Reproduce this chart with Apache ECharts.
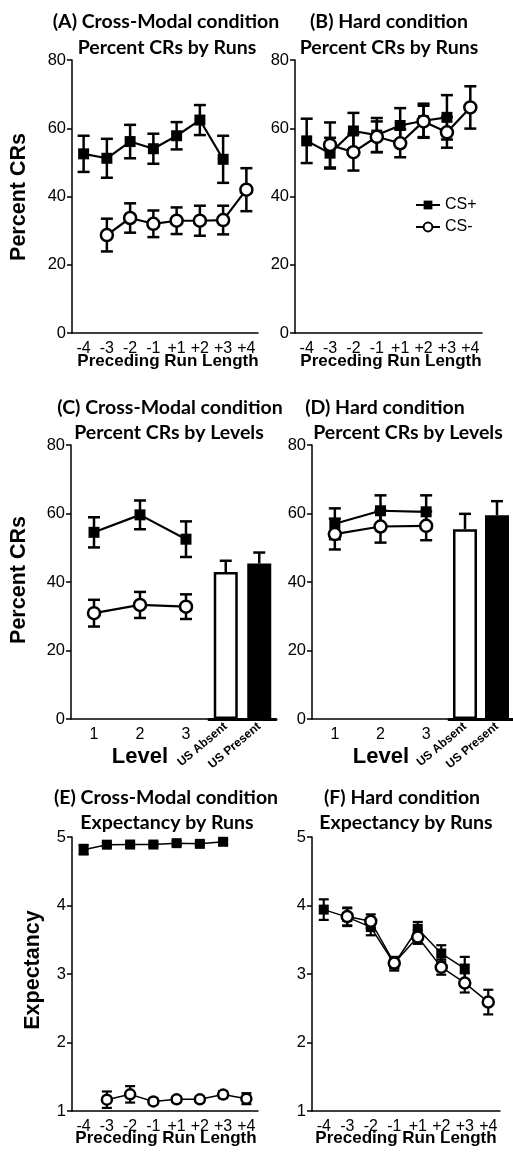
<!DOCTYPE html>
<html>
<head>
<meta charset="utf-8">
<script src="https://cdn.jsdelivr.net/npm/echarts@6/dist/echarts.min.js"></script>
<style>
html,body{margin:0;padding:0;background:#fff;}
#c{width:513px;height:1156px;}
</style>
</head>
<body>
<div id="c"></div>
<script>
// ---------- DATA ----------
const runLabels = ['-4','-3','-2','-1','+1','+2','+3','+4'];
const levelLabels = ['1','2','3'];
const barLabels = ['US Absent','US Present'];

// (A) Cross-Modal, Percent CRs by Runs
const aPlusMean  = [52.5, 51.2, 56.1, 54.0, 57.8, 62.4, 50.9, null];
const aPlusErr   = [5.3, 5.7, 4.9, 4.4, 4.0, 4.4, 6.9, null];
const aMinusMean = [null, 28.7, 33.7, 32.0, 32.9, 32.9, 33.1, 42.0];
const aMinusErr  = [null, 4.8, 4.3, 3.9, 3.9, 4.4, 4.2, 6.3];

// (B) Hard, Percent CRs by Runs
const bPlusMean  = [56.3, 52.7, 59.2, 58.0, 60.8, 62.2, 63.2, null];
const bPlusErr   = [6.5, 4.5, 5.3, 5.0, 5.1, 5.0, 6.5, null];
const bMinusMean = [null, 55.1, 53.0, 57.5, 55.6, 62.0, 58.8, 66.1];
const bMinusErr  = [null, 6.6, 5.4, 4.5, 4.1, 4.6, 4.5, 6.2];

// (C) Cross-Modal, Percent CRs by Levels
const cPlusMean  = [54.5, 59.6, 52.5];
const cPlusErr   = [4.4, 4.2, 5.2];
const cMinusMean = [30.9, 33.3, 32.8];
const cMinusErr  = [3.9, 3.8, 3.6];
const cBarMean   = [42.9, 45.4];
const cBarErr    = [3.3, 3.2];

// (D) Hard, Percent CRs by Levels
const dPlusMean  = [57.0, 60.8, 60.5];
const dPlusErr   = [4.5, 4.5, 4.8];
const dMinusMean = [54.0, 56.2, 56.4];
const dMinusErr  = [4.5, 4.7, 4.2];
const dBarMean   = [55.4, 59.5];
const dBarErr    = [4.5, 4.1];

// (E) Cross-Modal, Expectancy by Runs
const ePlusMean  = [4.815, 4.888, 4.89, 4.89, 4.91, 4.90, 4.93, null];
const ePlusErr   = [0.07, 0.03, 0.03, 0.03, 0.03, 0.03, 0.03, null];
const eMinusMean = [null, 1.165, 1.243, 1.14, 1.17, 1.17, 1.24, 1.18];
const eMinusErr  = [null, 0.12, 0.12, 0.04, 0.04, 0.04, 0.05, 0.08];

// (F) Hard, Expectancy by Runs
const fPlusMean  = [3.94, 3.83, 3.685, 3.15, 3.66, 3.30, 3.08, null];
const fPlusErr   = [0.15, 0.13, 0.12, 0.10, 0.10, 0.12, 0.17, null];
const fMinusMean = [null, 3.84, 3.77, 3.16, 3.54, 3.10, 2.87, 2.59];
const fMinusErr  = [null, 0.13, 0.10, 0.08, 0.10, 0.11, 0.14, 0.18];

const pctTicks = {min: 0, max: 80, interval: 20};
const expTicks = {min: 1, max: 5, interval: 1};

// ---------- LAYOUT ----------
const AX = 'Liberation Sans';
const TF = 'Lato';
const TS = 19.5;
const grids = [
  {left: 72,  top: 60,  width: 186, height: 273}, // 0 A
  {left: 295, top: 60,  width: 187, height: 273}, // 1 B
  {left: 71,  top: 445, width: 138, height: 274}, // 2 C lines
  {left: 209, top: 445, width: 67,  height: 274}, // 3 C bars
  {left: 312, top: 445, width: 137, height: 274}, // 4 D lines
  {left: 449, top: 445, width: 66,  height: 274}, // 5 D bars
  {left: 72,  top: 837, width: 186, height: 274}, // 6 E
  {left: 312, top: 837, width: 188, height: 274}  // 7 F
];

function xCat(gi, labels, bar) {
  return {
    type: 'category', gridIndex: gi, data: labels, boundaryGap: true,
    axisLine: {lineStyle: {color: '#000', width: bar ? 3 : 1.5}},
    axisTick: {alignWithLabel: true, length: bar ? 6 : 5, lineStyle: {color: '#000', width: bar ? 3 : 1.5}},
    axisLabel: bar ? {rotate: 40, interval: 0, color: '#000', fontFamily: AX, fontWeight: 'bold', fontSize: 12, margin: 6}
                   : {interval: 0, color: '#000', fontFamily: AX, fontSize: 16, margin: 8},
    splitLine: {show: false}
  };
}
function yVal(gi, t, show) {
  return {
    type: 'value', gridIndex: gi, min: t.min, max: t.max, interval: t.interval, show: show,
    axisLine: {show: true, lineStyle: {color: '#000', width: 1.5}},
    axisTick: {show: true, length: 5, lineStyle: {color: '#000', width: 1.5}},
    axisLabel: {color: '#000', fontFamily: AX, fontSize: 16.5, margin: 6},
    splitLine: {show: false}
  };
}

const xAxes = [
  xCat(0, runLabels), xCat(1, runLabels),
  xCat(2, levelLabels), xCat(3, barLabels, true),
  xCat(4, levelLabels), xCat(5, barLabels, true),
  xCat(6, runLabels), xCat(7, runLabels)
];
const yAxes = [
  yVal(0, pctTicks, true), yVal(1, pctTicks, true),
  yVal(2, pctTicks, true), yVal(3, pctTicks, false),
  yVal(4, pctTicks, true), yVal(5, pctTicks, false),
  yVal(6, expTicks, true), yVal(7, expTicks, true)
];

function errData(mean, err) {
  const out = [];
  mean.forEach((m, i) => { if (m !== null && err[i] !== null) out.push([i, m, err[i]]); });
  return out;
}
function errSeries(ai, mean, err, cap, lw, z, upOnly) {
  return {
    type: 'custom', xAxisIndex: ai, yAxisIndex: ai, z: z, silent: true,
    data: errData(mean, err),
    renderItem: function (params, api) {
      const x = api.value(0), m = api.value(1), e = api.value(2);
      const c = api.coord([x, m]);
      const t = api.coord([x, m + e]);
      const b = api.coord([x, upOnly ? m : m - e]);
      const st = {stroke: '#000', lineWidth: lw};
      const ch = [
        {type: 'line', shape: {x1: c[0], y1: t[1], x2: c[0], y2: b[1]}, style: st},
        {type: 'line', shape: {x1: c[0] - cap / 2, y1: t[1], x2: c[0] + cap / 2, y2: t[1]}, style: st}
      ];
      if (!upOnly) ch.push({type: 'line', shape: {x1: c[0] - cap / 2, y1: b[1], x2: c[0] + cap / 2, y2: b[1]}, style: st});
      return {type: 'group', children: ch};
    }
  };
}
function lineSeries(ai, name, mean, isPlus, lw, size, z) {
  return {
    type: 'line', name: name, xAxisIndex: ai, yAxisIndex: ai, z: z,
    data: mean, connectNulls: false,
    symbol: isPlus ? 'rect' : 'circle',
    symbolSize: size,
    showSymbol: true,
    lineStyle: {color: '#000', width: lw},
    itemStyle: isPlus ? {color: '#000', borderColor: '#000', borderWidth: 0}
                      : {color: '#fff', borderColor: '#000', borderWidth: 2.5},
    emphasis: {disabled: true},
    animation: false
  };
}
function pair(ai, pm, pe, mm, me, lw, sq, ci, cap, elw) {
  return [
    errSeries(ai, pm, pe, cap, elw, 2),
    lineSeries(ai, 'CS+', pm, true, lw, sq, 3),
    errSeries(ai, mm, me, cap, elw, 4),
    lineSeries(ai, 'CS-', mm, false, lw, ci, 5)
  ];
}
function barSeries(ai, mean, err) {
  return [
    {
      type: 'bar', xAxisIndex: ai, yAxisIndex: ai, barWidth: 24, z: 2,
      data: mean.map((v, i) => ({
        value: v,
        itemStyle: i === 0 ? {color: '#fff', borderColor: '#000', borderWidth: 2.5}
                           : {color: '#000', borderColor: '#000', borderWidth: 2.5}
      })),
      emphasis: {disabled: true}, animation: false
    },
    errSeries(ai, mean, err, 12, 2.5, 1, true)
  ];
}

const series = [].concat(
  pair(0, aPlusMean, aPlusErr, aMinusMean, aMinusErr, 2.2, 11, 12, 12, 2.5),
  pair(1, bPlusMean, bPlusErr, bMinusMean, bMinusErr, 2.2, 11, 12, 12, 2.5),
  pair(2, cPlusMean, cPlusErr, cMinusMean, cMinusErr, 2.2, 11, 12, 12, 2.5),
  barSeries(3, cBarMean, cBarErr),
  pair(4, dPlusMean, dPlusErr, dMinusMean, dMinusErr, 2.2, 11, 12, 12, 2.5),
  barSeries(5, dBarMean, dBarErr),
  pair(6, ePlusMean, ePlusErr, eMinusMean, eMinusErr, 1.5, 10, 10, 10, 2.2),
  pair(7, fPlusMean, fPlusErr, fMinusMean, fMinusErr, 1.5, 10, 11, 10, 2.2)
);

function txt(x, y, s, size, font, weight, rot) {
  return {
    type: 'text', x: x, y: y, rotation: rot || 0, silent: true,
    style: {text: s, fill: '#000', font: (weight || 'bold') + ' ' + size + 'px "' + font + '"', textAlign: 'center', textVerticalAlign: 'middle'}
  };
}
const graphics = [
  txt(166, 22, '(A) Cross-Modal condition', TS, TF),
  txt(167, 48, 'Percent CRs by Runs', TS, TF),
  txt(389, 22, '(B) Hard condition', TS, TF),
  txt(389, 48, 'Percent CRs by Runs', TS, TF),
  txt(170, 408, '(C) Cross-Modal condition', TS, TF),
  txt(169, 433, 'Percent CRs by Levels', TS, TF),
  txt(385, 408, '(D) Hard condition', TS, TF),
  txt(408, 433, 'Percent CRs by Levels', TS, TF),
  txt(166, 798, '(E) Cross-Modal condition', TS, TF),
  txt(167, 823, 'Expectancy by Runs', TS, TF),
  txt(402, 798, '(F) Hard condition', TS, TF),
  txt(406, 823, 'Expectancy by Runs', TS, TF),
  txt(19, 197, 'Percent CRs', 21.5, AX, 'bold', Math.PI / 2),
  txt(19, 580, 'Percent CRs', 21.5, AX, 'bold', Math.PI / 2),
  txt(33, 970, 'Expectancy', 21.5, AX, 'bold', Math.PI / 2),
  txt(168, 361, 'Preceding Run Length', 17, AX),
  txt(391, 361, 'Preceding Run Length', 17, AX),
  txt(166, 1138, 'Preceding Run Length', 17, AX),
  txt(406, 1138, 'Preceding Run Length', 17, AX),
  txt(140, 757, 'Level', 22, AX),
  txt(381, 757, 'Level', 22, AX)
];

const chart = echarts.init(document.getElementById('c'), null, {renderer: 'canvas'});
chart.setOption({
  animation: false,
  backgroundColor: '#fff',
  grid: grids,
  xAxis: xAxes,
  yAxis: yAxes,
  legend: {
    data: ['CS+', 'CS-'], orient: 'vertical', left: 410, top: 192,
    itemWidth: 24, itemHeight: 11, itemGap: 6, selectedMode: false,
    textStyle: {color: '#000', fontFamily: AX, fontSize: 16}
  },
  graphic: graphics,
  series: series
});
</script>
</body>
</html>
